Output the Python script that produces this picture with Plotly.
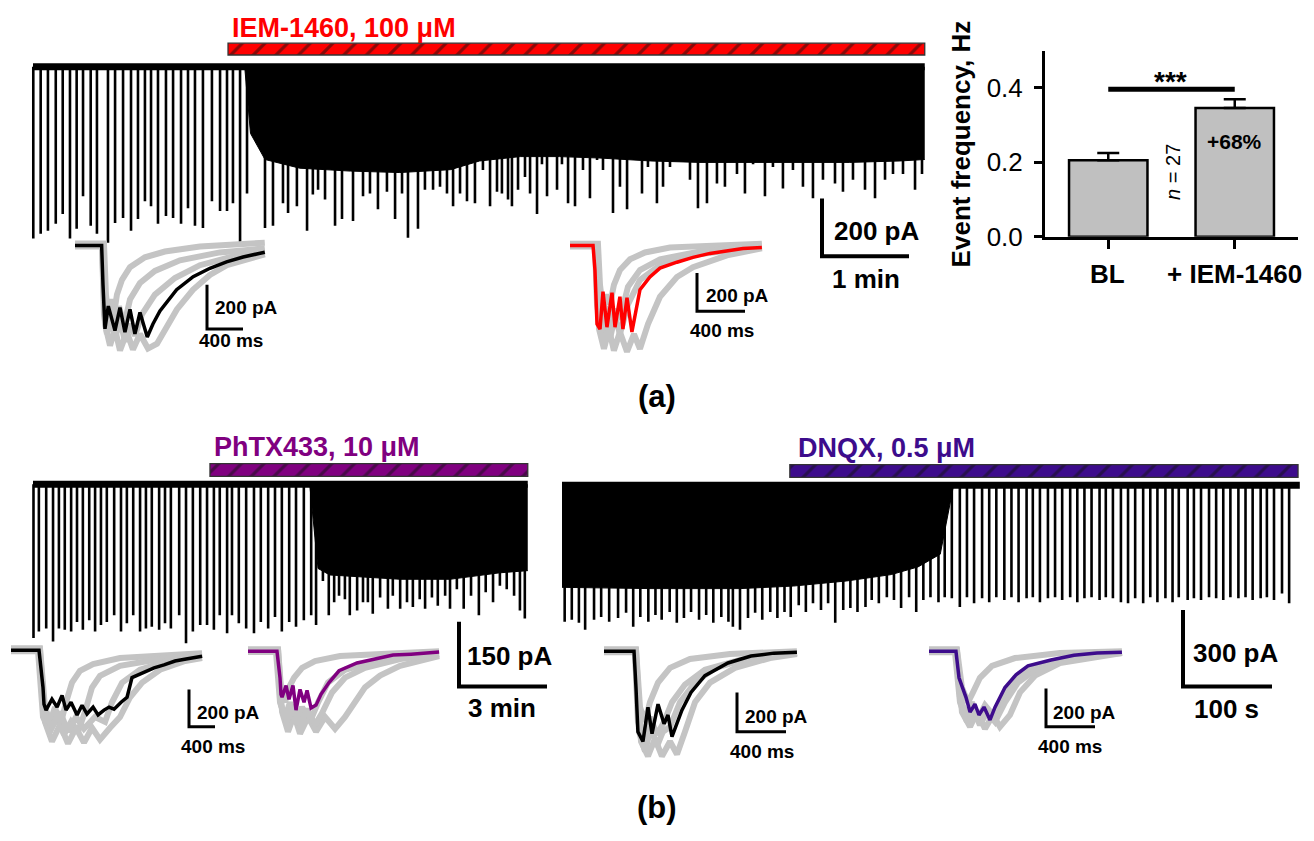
import plotly.graph_objects as go

W, H = 1314, 841
FONT = "Liberation Sans, Arial, sans-serif"
RED = "#ff0000"
PURPLE = "#800080"
INDIGO = "#3d0c8c"
GRAY = "#c4c4c4"

# ------------------------------------------------------------------ DATA
# (a) spontaneous activity, IEM-1460 : event times (s) and amplitudes (pA)
a_dur = 615
a_drug = [134.5, 615]
a_spike_t = [0.2, 5.3, 10.3, 15.7, 20.5, 25.5, 30.1, 34.5, 39.8, 44.1,
             51.7, 56.6, 62.1, 67.6, 72.4, 77.2, 81.4, 86.2, 91.7, 96.6,
             102.1, 106.9, 111.7, 117.2, 123.4, 129.0, 133.8, 137.9, 142.8, 147.6,
             160, 165.5, 172.4, 175.9, 182, 189, 193, 196.6, 201.4, 208.3,
             213.1, 220.7, 227.6, 232.4, 237.9, 244.1, 249.7, 254.5, 258.6, 265.5,
             270.3, 275.9, 280.7, 285.5, 289.7, 294.5, 299.3, 304.8, 310.3, 315.2,
             320, 323.4, 327.6, 330.3, 334.5, 339.3, 342.8, 347.6, 351, 354.5,
             361.4, 364.8, 369, 373.8, 379.3, 384.1, 389, 393.1, 400, 404.8,
             409.7, 413.8, 420, 424.1, 430.3, 434.5, 439.3, 446.2, 453.1, 458.6,
             464.8, 471.7, 477.2, 485.5, 491, 496.6, 504.8, 510.3, 517.2, 524.1,
             531, 537.9, 544.8, 553.1, 558.6, 565.5, 573.8, 580.7, 587.6, 593.1,
             600, 608.3, 613.1]
a_spike_amp = [593, 576, 566, 542, 508, 593, 559, 447, 549, 576,
               607, 539, 522, 566, 525, 464, 481, 542, 515, 522,
               542, 488, 549, 556, 464, 498, 498, 471, 607, 437,
               556, 549, 471, 505, 481, 566, 441, 424, 458, 549,
               525, 532, 447, 437, 492, 431, 525, 437, 590, 559,
               424, 424, 414, 437, 481, 437, 464, 471, 356, 481,
               431, 437, 458, 481, 424, 380, 437, 508, 336, 447,
               424, 336, 471, 481, 356, 454, 322, 356, 505, 414,
               492, 288, 437, 346, 471, 414, 346, 302, 390, 488,
               471, 403, 414, 370, 437, 336, 447, 346, 420, 356,
               414, 454, 390, 403, 431, 390, 424, 454, 390, 370,
               370, 424, 370]
a_dense_t = [146, 150, 160, 184, 219, 253, 288, 308, 336, 363, 391, 426, 460, 494, 529, 563, 598, 615]
a_dense_amp = [0, 230, 320, 350, 360, 365, 355, 325, 310, 310, 315, 325, 330, 330, 330, 330, 325, 320]

# (a) bar chart
bar_cats = ["BL", "+ IEM-1460"]
bar_vals = [0.205, 0.345]
bar_err = [0.019, 0.023]

# (b) left: PhTX433
bl_dur = 1012
bl_drug = [362, 1012]
bl_spike_t = [1, 12, 27, 41, 53, 65, 78, 90, 102, 115,
              127, 139, 151, 166, 180, 192, 205, 219, 231, 243,
              258, 270, 282, 299, 313, 327, 342, 356, 370, 382,
              397, 407, 421, 436, 452, 466, 481, 495, 509, 524,
              538, 554, 569, 579, 593, 605, 616, 626, 638, 648,
              663, 675, 685, 695, 710, 726, 736, 751, 765, 777,
              791, 802, 816, 828, 843, 853, 867, 881, 896, 912,
              926, 941, 955, 969, 984, 996, 1006]
bl_spike_amp = [356, 341, 334, 364, 334, 337, 341, 319, 337, 315,
                341, 326, 319, 303, 341, 322, 303, 341, 334, 330,
                337, 322, 334, 303, 368, 341, 326, 326, 337, 303,
                345, 303, 322, 334, 345, 319, 334, 307, 341, 319,
                330, 315, 303, 326, 224, 303, 273, 258, 266, 303,
                292, 273, 273, 300, 262, 288, 258, 288, 273, 284,
                266, 288, 262, 281, 258, 288, 243, 288, 258, 303,
                250, 273, 235, 243, 258, 292, 311]
bl_dense_t = [566, 583, 607, 669, 751, 853, 955, 1012]
bl_dense_amp = [0, 195, 210, 215, 220, 220, 205, 200]

# (b) right: DNQX
br_dur = 829
br_drug = [256, 827]
br_spike_t = [3, 11, 19, 26, 36, 44, 53, 63, 72, 80,
              88, 97, 105, 112, 121, 129, 137, 145, 154, 162,
              170, 179, 187, 192, 200, 209, 217, 225, 234, 242,
              250, 257, 266, 274, 282, 291, 299, 307, 316, 324,
              332, 341, 348, 356, 365, 373, 381, 390, 398, 406,
              414, 423, 430, 438, 447, 455, 463, 472, 480, 488,
              497, 505, 513, 522, 529, 537, 546, 554, 562, 571,
              579, 587, 595, 604, 611, 619, 628, 636, 644, 653,
              661, 669, 678, 686, 693, 703, 710, 718, 727, 735,
              743, 751, 760, 768, 776, 785, 792, 800, 809, 817]
br_spike_amp = [535, 527, 539, 566, 527, 516, 535, 520, 500, 554,
                516, 535, 508, 527, 497, 539, 520, 497, 527, 508,
                539, 516, 535, 554, 566, 520, 500, 527, 497, 520,
                497, 516, 470, 497, 462, 489, 462, 539, 489, 481,
                497, 477, 450, 462, 439, 450, 481, 439, 497, 450,
                439, 458, 439, 443, 477, 439, 462, 443, 458, 439,
                450, 439, 458, 443, 439, 458, 443, 439, 450, 439,
                458, 443, 439, 450, 439, 443, 458, 462, 443, 462,
                439, 458, 443, 458, 439, 450, 443, 450, 439, 443,
                450, 439, 443, 439, 450, 443, 439, 450, 424, 462]
br_dense_t = [0, 100, 200, 260, 320, 370, 400, 425, 440]
br_dense_amp = [400, 405, 405, 395, 375, 350, 320, 270, 0]

# ---- inset event traces: time (ms), current (pA)
ia_mean_t = [0, 296, 311, 333, 370, 444, 500, 555, 611, 666, 722, 803, 866, 944, 1129, 1313, 1499, 1684, 1868, 2109]
ia_mean_a = [0, 0, -178, -377, -274, -385, -281, -392, -289, -400, -303, -414, -355, -296, -200, -141, -103, -74, -52, -30]
ia_gray_t = [
    [0, 322, 344, 366, 400, 433, 466, 522, 611, 777, 999, 1388, 2109],
    [0, 300, 322, 355, 400, 444, 500, 555, 611, 666, 744, 888, 1110, 1388, 1721, 2109],
    [0, 311, 333, 389, 444, 500, 577, 644, 722, 811, 911, 999, 1132, 1310, 1499, 1688, 2109],
    [0, 300, 322, 355, 400, 444, 489, 544, 611, 722, 888, 1166, 1610, 2109]]
ia_gray_a = [
    [9, 9, -222, -302, -244, -311, -222, -155, -98, -53, -27, -4, 13],
    [-4, -4, -311, -400, -320, -422, -333, -435, -355, -408, -311, -222, -147, -89, -53, -27],
    [0, 0, -355, -453, -377, -475, -391, -471, -400, -466, -444, -377, -289, -200, -133, -89, -40],
    [4, 4, -244, -333, -266, -355, -275, -364, -244, -169, -115, -67, -31, -13]]

ir_mean_t = [0, 192, 208, 225, 250, 275, 308, 350, 375, 416, 441, 475, 516, 583, 666, 750, 891, 1025, 1166, 1308, 1441, 1599]
ir_mean_a = [0, 0, -128, -410, -436, -241, -426, -246, -426, -267, -436, -272, -451, -231, -164, -118, -87, -62, -41, -26, -15, -10]
ir_gray_t = [
    [0, 233, 250, 275, 308, 333, 366, 416, 500, 625, 833, 1599],
    [0, 217, 233, 267, 300, 333, 375, 416, 483, 583, 750, 1000, 1599],
    [0, 225, 242, 283, 325, 366, 416, 475, 533, 583, 650, 750, 891, 1025, 1308, 1599],
    [0, 208, 225, 258, 292, 325, 366, 416, 483, 583, 750, 1083, 1599]]
ir_gray_a = [
    [10, 10, -205, -333, -256, -308, -205, -128, -72, -36, -10, 10],
    [0, 0, -359, -487, -359, -487, -369, -462, -308, -180, -103, -51, -5],
    [-5, -5, -436, -539, -436, -549, -451, -554, -462, -539, -410, -267, -164, -113, -51, -15],
    [5, 5, -308, -436, -318, -446, -333, -385, -215, -128, -72, -31, 0]]

ibk_mean_t = [0, 231, 264, 272, 289, 338, 380, 421, 454, 495, 545, 586, 627, 677, 718, 767, 809, 850, 908, 957, 998, 1089, 1180, 1262, 1353, 1444, 1576]
ibk_mean_a = [0, 0, -200, -289, -321, -263, -305, -242, -321, -279, -347, -295, -342, -305, -347, -321, -305, -316, -279, -252, -147, -121, -95, -79, -58, -47, -32]
ibk_gray_t = [
    [0, 239, 280, 322, 363, 404, 454, 503, 569, 677, 899, 1576],
    [0, 223, 264, 322, 380, 437, 495, 553, 610, 668, 734, 899, 1229, 1576],
    [0, 239, 280, 338, 404, 470, 536, 602, 668, 734, 817, 899, 982, 1081, 1229, 1436, 1576],
    [0, 231, 272, 338, 404, 470, 536, 602, 693, 776, 833, 916, 1064, 1312, 1576]]
ibk_gray_a = [
    [11, 11, -305, -384, -305, -410, -279, -174, -110, -74, -42, -16],
    [-5, -5, -358, -437, -358, -452, -384, -437, -331, -200, -137, -84, -47, -26],
    [5, 5, -384, -489, -400, -500, -416, -495, -416, -479, -416, -358, -252, -174, -105, -58, -42],
    [0, 0, -331, -410, -331, -437, -358, -421, -358, -384, -279, -174, -105, -53, -26]]

ipu_mean_t = [0, 239, 264, 272, 281, 314, 338, 371, 396, 429, 462, 487, 520, 561, 602, 668, 751, 899, 1048, 1196, 1345, 1576]
ipu_mean_a = [0, 0, -142, -231, -247, -184, -258, -184, -316, -205, -274, -210, -305, -289, -231, -168, -105, -63, -42, -21, -16, -5]
ipu_gray_t = [
    [0, 248, 272, 305, 338, 380, 446, 553, 759, 1576],
    [0, 231, 264, 305, 347, 396, 446, 512, 578, 660, 800, 1089, 1576],
    [0, 248, 281, 330, 380, 429, 495, 561, 635, 718, 800, 883, 965, 1089, 1254, 1576],
    [0, 239, 272, 322, 371, 429, 487, 553, 611, 693, 800, 965, 1254, 1576]]
ipu_gray_a = [
    [11, 11, -194, -274, -194, -142, -89, -53, -26, 0],
    [-5, -5, -274, -352, -274, -378, -300, -378, -274, -168, -100, -47, -16],
    [5, 5, -326, -431, -342, -442, -352, -431, -352, -416, -352, -274, -194, -131, -79, -26],
    [0, 0, -289, -378, -289, -395, -310, -395, -331, -221, -142, -89, -42, -16]]

irk_mean_t = [0, 245, 261, 277, 318, 359, 392, 441, 490, 522, 555, 636, 710, 824, 1012, 1200, 1387, 1575]
irk_mean_a = [0, 0, -185, -410, -460, -285, -420, -270, -370, -325, -435, -300, -210, -125, -60, -25, -10, -5]
irk_gray_t = [
    [0, 261, 294, 335, 375, 441, 539, 702, 1028, 1575],
    [0, 253, 286, 335, 384, 432, 481, 539, 620, 743, 906, 1191, 1575],
    [0, 261, 302, 359, 416, 473, 539, 596, 661, 743, 865, 1069, 1355, 1575],
    [0, 253, 277, 326, 375, 432, 490, 555, 661, 824, 1110, 1575]]
irk_gray_a = [
    [10, 10, -285, -360, -260, -160, -85, -40, -15, 0],
    [-5, -5, -410, -510, -385, -485, -410, -385, -260, -160, -85, -35, -10],
    [5, 5, -460, -535, -445, -535, -460, -525, -410, -260, -160, -85, -35, -15],
    [0, 0, -360, -435, -335, -425, -360, -260, -170, -95, -45, -10]]

iri_mean_t = [0, 220, 245, 302, 335, 375, 408, 449, 498, 539, 620, 710, 808, 996, 1183, 1371, 1575]
iri_mean_a = [0, 0, -139, -241, -318, -277, -333, -292, -359, -292, -190, -123, -77, -46, -21, -10, -5]
iri_gray_t = [
    [0, 228, 269, 318, 359, 416, 514, 702, 1069, 1575],
    [0, 212, 253, 310, 359, 416, 473, 539, 620, 726, 865, 1110, 1575],
    [0, 228, 269, 335, 392, 457, 522, 579, 661, 743, 865, 1069, 1575],
    [0, 220, 253, 302, 351, 400, 457, 522, 604, 702, 865, 1151, 1575]]
iri_gray_a = [
    [10, 10, -190, -267, -215, -139, -77, -36, -10, 0],
    [-5, -5, -267, -369, -303, -385, -318, -369, -267, -164, -97, -41, -10],
    [5, 5, -318, -395, -318, -405, -333, -395, -333, -215, -128, -62, -10],
    [0, 0, -241, -333, -267, -354, -282, -333, -231, -139, -77, -31, -5]]

# scale bar values
a_sb = (200, 60)       # pA, s
bl_sb = (150, 180)     # pA, s
br_sb = (300, 100)     # pA, s
inset_sb = (200, 400)  # pA, ms

# ------------------------------------------------------------------ LAYOUT HELPERS
fig = go.Figure()
axes_layout = {}
_count = [1]
TEXT_DY = 3


def new_axes(box, origin, sx, sy):
    _count[0] += 1
    i = _count[0]
    x0, y0, x1, y1 = box
    ox, oy = origin
    axes_layout[f"xaxis{i}"] = dict(domain=[max(0, x0 / W), min(1, x1 / W)],
                                    range=[(x0 - ox) / sx, (x1 - ox) / sx],
                                    visible=False, anchor=f"y{i}", fixedrange=True)
    axes_layout[f"yaxis{i}"] = dict(domain=[max(0, 1 - y1 / H), min(1, 1 - y0 / H)],
                                    range=[(oy - y1) / sy, (oy - y0) / sy],
                                    visible=False, anchor=f"x{i}", fixedrange=True)
    return dict(x=f"x{i}", y=f"y{i}", ox=ox, oy=oy, sx=sx, sy=sy)


def to_data(ax, px, py):
    return (px - ax["ox"]) / ax["sx"], (ax["oy"] - py) / ax["sy"]


def add_line(ax, xs, ys, color, width):
    fig.add_trace(go.Scatter(x=xs, y=ys, mode="lines", xaxis=ax["x"], yaxis=ax["y"],
                             line=dict(color=color, width=width), hoverinfo="skip",
                             showlegend=False))


def activity(ax, dur, st, sa, dt, da):
    add_line(ax, [0, dur], [0, 0], "black", 7)
    fig.add_trace(go.Scatter(x=dt, y=[-v for v in da], mode="lines", fill="tozeroy",
                             fillcolor="black", line=dict(color="black", width=1),
                             xaxis=ax["x"], yaxis=ax["y"], hoverinfo="skip", showlegend=False))
    xs, ys = [], []
    for t, a in zip(st, sa):
        xs += [t, t, None]
        ys += [0, -a, None]
    add_line(ax, xs, ys, "black", 2.6)


def drug_bar(ax, on_off, py0, py1, color):
    _, yc = to_data(ax, 0, (py0 + py1) / 2)
    h = (py1 - py0) / ax["sy"]
    fig.add_trace(go.Bar(x=[on_off[1] - on_off[0]], base=[on_off[0]], y=[yc], width=[h],
                         orientation="h", xaxis=ax["x"], yaxis=ax["y"], showlegend=False,
                         hoverinfo="skip",
                         marker=dict(color=color, line=dict(color="#333333", width=1.3),
                                     pattern=dict(shape="/", fgcolor="#111111", size=16,
                                                  solidity=0.2, fillmode="overlay"))))


def scale_bar(ax, corner_px, vals, width):
    cx, cy = to_data(ax, *corner_px)
    add_line(ax, [cx, cx, cx + vals[1]], [cy + vals[0], cy, cy], "black", width)


def inset(ax, mt, ma, gt, ga, color):
    for t, a in zip(gt, ga):
        add_line(ax, t, a, GRAY, 6)
    add_line(ax, mt, ma, color, 3.5)


annotations = []


def text(s, px, py, size, color="black", xanchor="center", angle=0, bold=True):
    annotations.append(dict(text=f"<b>{s}</b>" if bold else s, x=px / W, y=1 - (py + TEXT_DY) / H,
                            xref="paper", yref="paper", xanchor=xanchor, yanchor="middle",
                            showarrow=False, textangle=angle,
                            font=dict(family=FONT, size=size, color=color)))


# ------------------------------------------------------------------ PANEL (a)
ax_a = new_axes((25, 35, 935, 270), (33, 68), 87 / 60, 59 / 200)
activity(ax_a, a_dur, a_spike_t, a_spike_amp, a_dense_t, a_dense_amp)
drug_bar(ax_a, a_drug, 44, 56, RED)
scale_bar(ax_a, (822, 261), a_sb, 4)
text("IEM-1460, 100 μM", 230, 26, 27, RED, "left")
text("200 pA", 832, 232, 26, xanchor="left")
text("1 min", 866, 281, 26)

ax_ia = new_axes((65, 238, 285, 368), (75, 250), 36 / 400, 45 / 200)
inset(ax_ia, ia_mean_t, ia_mean_a, ia_gray_t, ia_gray_a, "black")
scale_bar(ax_ia, (207, 335), inset_sb, 3)
text("200 pA", 213, 310, 19, xanchor="left")
text("400 ms", 231, 344, 19)

ax_ir = new_axes((560, 238, 780, 370), (570, 250), 48 / 400, 39 / 200)
inset(ax_ir, ir_mean_t, ir_mean_a, ir_gray_t, ir_gray_a, RED)
scale_bar(ax_ir, (697, 317), inset_sb, 3)
text("200 pA", 704, 298, 19, xanchor="left")
text("400 ms", 722, 333, 19)

text("(a)", 657, 401, 31)

# bar chart (axis 1)
fig.add_trace(go.Bar(x=[0, 1], y=bar_vals, width=0.62, marker=dict(color="#c0c0c0", line=dict(color="black", width=2.5)),
                     error_y=dict(type="data", symmetric=False, array=bar_err, arrayminus=[0, 0],
                                  color="black", thickness=2.5, width=11),
                     showlegend=False, hoverinfo="skip"))
fig.add_trace(go.Scatter(x=[0, 1], y=[0.395, 0.395], mode="lines", line=dict(color="black", width=5),
                         showlegend=False, hoverinfo="skip"))
axes_layout["xaxis"] = dict(domain=[1045 / W, 1298 / W], range=[-0.5, 1.5], showline=True, linewidth=3,
                            linecolor="black", ticks="outside", ticklen=9, tickwidth=3, tickcolor="black",
                            tickvals=[0, 1], showticklabels=False, showgrid=False, zeroline=False,
                            fixedrange=True, anchor="y")
axes_layout["yaxis"] = dict(domain=[1 - 241 / H, 1 - 52 / H], range=[0, 0.4974], showline=True, linewidth=3,
                            linecolor="black", ticks="outside", ticklen=8, tickwidth=3, tickcolor="black",
                            tickvals=[0, 0.2, 0.4], tickformat=".1f", showgrid=False, zeroline=False,
                            tickfont=dict(family=FONT, size=26, color="black"), ticklabelstandoff=6,
                            fixedrange=True, anchor="x")
text(bar_cats[0], 1107, 276, 26)
text(bar_cats[1], 1234, 276, 26)
text("Event frequency, Hz", 961, 144, 26, angle=-90)
text("***", 1170, 80, 28)
text("<i>n</i> = 27", 1173, 172, 20, angle=-90, bold=False)
text("+68%", 1234, 141, 21)

# ------------------------------------------------------------------ PANEL (b) left
ax_bl = new_axes((25, 462, 555, 705), (33, 493), 88 / 180, 66 / 150)
activity(ax_bl, bl_dur, bl_spike_t, bl_spike_amp, bl_dense_t, bl_dense_amp)
drug_bar(ax_bl, bl_drug, 472, 485, PURPLE)
scale_bar(ax_bl, (459, 699), bl_sb, 4)
text("PhTX433, 10 μM", 212, 452, 27, PURPLE, "left")
text("150 pA", 465, 665, 26, xanchor="left")
text("3 min", 502, 718, 26)

ax_ibk = new_axes((0, 650, 215, 772), (11, 662), 48.5 / 400, 38 / 200)
inset(ax_ibk, ibk_mean_t, ibk_mean_a, ibk_gray_t, ibk_gray_a, "black")
scale_bar(ax_ibk, (189, 740), inset_sb, 3)
text("200 pA", 195, 722, 19, xanchor="left")
text("400 ms", 213, 757, 19)

ax_ipu = new_axes((240, 650, 450, 772), (248, 663), 48.5 / 400, 38 / 200)
inset(ax_ipu, ipu_mean_t, ipu_mean_a, ipu_gray_t, ipu_gray_a, PURPLE)

# ------------------------------------------------------------------ PANEL (b) right
ax_br = new_axes((555, 462, 1310, 705), (562, 494), 89 / 100, 78 / 300)
activity(ax_br, br_dur, br_spike_t, br_spike_amp, br_dense_t, br_dense_amp)
drug_bar(ax_br, br_drug, 473, 486, INDIGO)
scale_bar(ax_br, (1183, 699), br_sb, 4)
text("DNQX, 0.5 μM", 796, 453, 27, INDIGO, "left")
text("300 pA", 1191, 662, 26, xanchor="left")
text("100 s", 1226, 719, 26)

ax_irk = new_axes((595, 650, 815, 782), (604, 663), 49 / 400, 40 / 200)
inset(ax_irk, irk_mean_t, irk_mean_a, irk_gray_t, irk_gray_a, "black")
scale_bar(ax_irk, (737, 745), inset_sb, 3)
text("200 pA", 743, 727, 19, xanchor="left")
text("400 ms", 762, 762, 19)

ax_iri = new_axes((920, 650, 1135, 782), (929, 663), 49 / 400, 39 / 200)
inset(ax_iri, iri_mean_t, iri_mean_a, iri_gray_t, iri_gray_a, INDIGO)
scale_bar(ax_iri, (1046, 740), inset_sb, 3)
text("200 pA", 1051, 722, 19, xanchor="left")
text("400 ms", 1070, 757, 19)

annotations.append(dict(text="<b>(b)</b>", x=657 / W, y=0, xref="paper", yref="paper",
                        xanchor="center", yanchor="bottom", showarrow=False, borderpad=0,
                        font=dict(family=FONT, size=31, color="black")))

fig.update_layout(width=W, height=H, autosize=False, margin=dict(l=0, r=0, t=0, b=0, pad=0),
                  paper_bgcolor="white", plot_bgcolor="rgba(0,0,0,0)", showlegend=False,
                  font=dict(family=FONT, color="black"), annotations=annotations,
                  barmode="overlay", **axes_layout)
fig.write_html("out.html", config={"displayModeBar": False, "staticPlot": True},
               post_script="document.body.style.margin='0';document.body.style.overflow='hidden';")
